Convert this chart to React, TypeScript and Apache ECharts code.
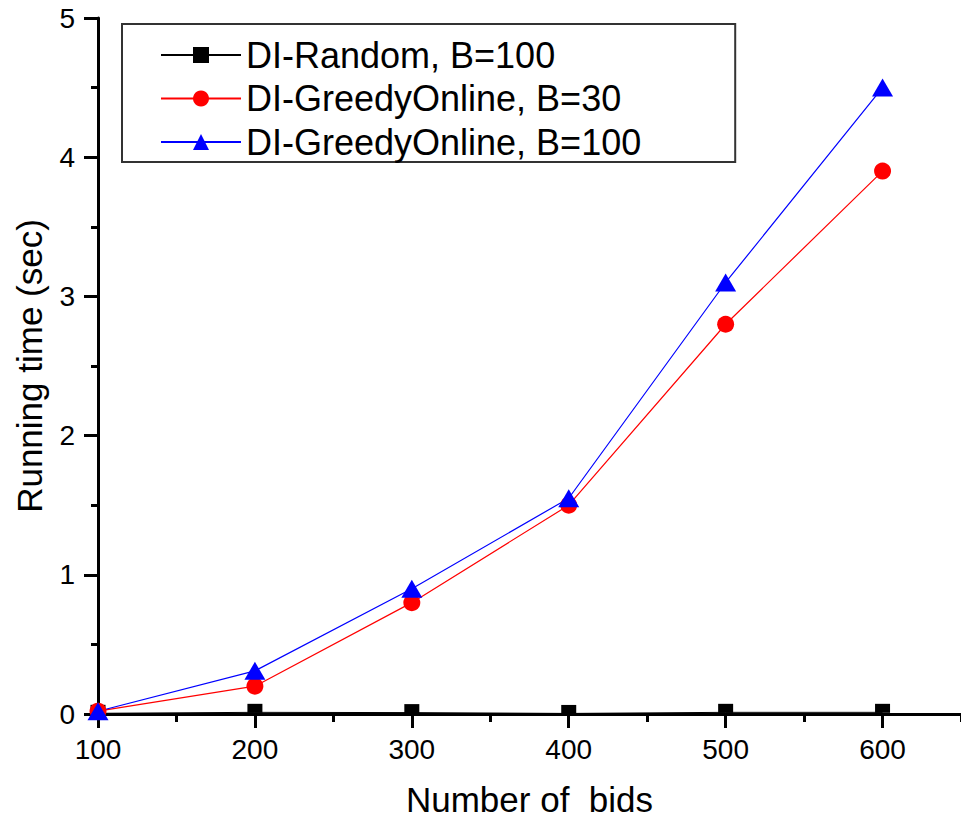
import React, { useEffect, useRef } from "react";
import * as echarts from "echarts";

const bids = [100, 200, 300, 400, 500, 600];
const randomB100 = [0.005, 0.012, 0.01, 0.004, 0.012, 0.012];
const greedyB30 = [0.02, 0.2, 0.8, 1.5, 2.8, 3.9];
const greedyB100 = [0.02, 0.31, 0.9, 1.55, 3.1, 4.5];
const xMajorTicks = [100, 200, 300, 400, 500, 600];
const seriesNames = ["DI-Random, B=100", "DI-GreedyOnline, B=30", "DI-GreedyOnline, B=100"];

const FONT = 'Arial, "Liberation Sans", sans-serif';

export default function App() {
  const ref = useRef<HTMLDivElement>(null);
  useEffect(() => {
    if (!ref.current) return;
    const chart = echarts.init(ref.current, null, { renderer: "svg" });
    const pair = (ys: number[]) => bids.map((x, i) => [x, ys[i]]);
    chart.setOption({
      animation: false,
      backgroundColor: "#ffffff",
      textStyle: { fontFamily: FONT, color: "#000" },
      grid: {
        left: 98,
        right: 0,
        top: 18,
        bottom: 105,
        containLabel: false,
        outerBoundsMode: "none",
      },
      legend: {
        orient: "vertical",
        left: 122,
        top: 24,
        padding: [11, 94, 0, 38],
        itemGap: 3.5,
        itemWidth: 80,
        itemHeight: 20,
        borderColor: "#333",
        borderWidth: 2,
        textStyle: { fontFamily: FONT, fontSize: 36, color: "#000", lineHeight: 40 },
        data: seriesNames,
      },
      xAxis: [
        {
          type: "value",
          min: 100,
          max: 650,
          interval: 100,
          name: "Number of  bids",
          nameLocation: "middle",
          nameGap: 70,
          nameTextStyle: { fontFamily: FONT, fontSize: 35, lineHeight: 30, color: "#000" },
          axisLine: { show: true, lineStyle: { color: "#000", width: 3 } },
          axisTick: {
            show: true,
            inside: false,
            length: 14,
            lineStyle: { color: "#000", width: 3 },
            customValues: xMajorTicks,
          },
          axisLabel: {
            fontFamily: FONT,
            fontSize: 28,
            color: "#000",
            margin: 21,
            customValues: xMajorTicks,
          },
          splitLine: { show: false },
        },
        {
          type: "value",
          min: 100,
          max: 650,
          interval: 50,
          position: "bottom",
          axisLine: { show: false },
          axisTick: { show: true, inside: false, length: 8, lineStyle: { color: "#000", width: 3 } },
          axisLabel: { show: false },
          splitLine: { show: false },
        },
      ],
      yAxis: {
        type: "value",
        min: 0,
        max: 5,
        interval: 1,
        name: "Running time (sec)",
        nameLocation: "middle",
        nameGap: 51,
        nameRotate: 90,
        nameTextStyle: { fontFamily: FONT, fontSize: 35, color: "#000" },
        axisLine: { show: true, lineStyle: { color: "#000", width: 3 } },
        axisTick: { show: true, inside: false, length: 14, lineStyle: { color: "#000", width: 3 } },
        minorTick: { show: true, splitNumber: 2, length: 7, lineStyle: { color: "#000", width: 3 } },
        axisLabel: { fontFamily: FONT, fontSize: 28, color: "#000", margin: 23 },
        splitLine: { show: false },
      },
      series: [
        {
          name: seriesNames[0],
          type: "line",
          xAxisIndex: 0,
          data: pair(randomB100),
          symbol: "rect",
          symbolSize: [15, 9],
          symbolOffset: [0, -4],
          color: "#000000",
          itemStyle: { color: "#000000" },
          lineStyle: { color: "#000000", width: 1 },
          clip: false,
        },
        {
          name: seriesNames[1],
          type: "line",
          xAxisIndex: 0,
          data: pair(greedyB30),
          symbol: "circle",
          symbolSize: 17,
          color: "#ff0000",
          itemStyle: { color: "#ff0000" },
          lineStyle: { color: "#ff0000", width: 1.2 },
          clip: false,
        },
        {
          name: seriesNames[2],
          type: "line",
          xAxisIndex: 0,
          data: pair(greedyB100),
          symbol: "triangle",
          symbolSize: [21, 18],
          color: "#0000ff",
          itemStyle: { color: "#0000ff" },
          lineStyle: { color: "#0000ff", width: 1.2 },
          clip: false,
        },
      ],
    });
    return () => chart.dispose();
  }, []);
  return (
    <div
      ref={ref}
      style={{ position: "absolute", left: 0, top: 0, width: 961, height: 819 }}
    />
  );
}
